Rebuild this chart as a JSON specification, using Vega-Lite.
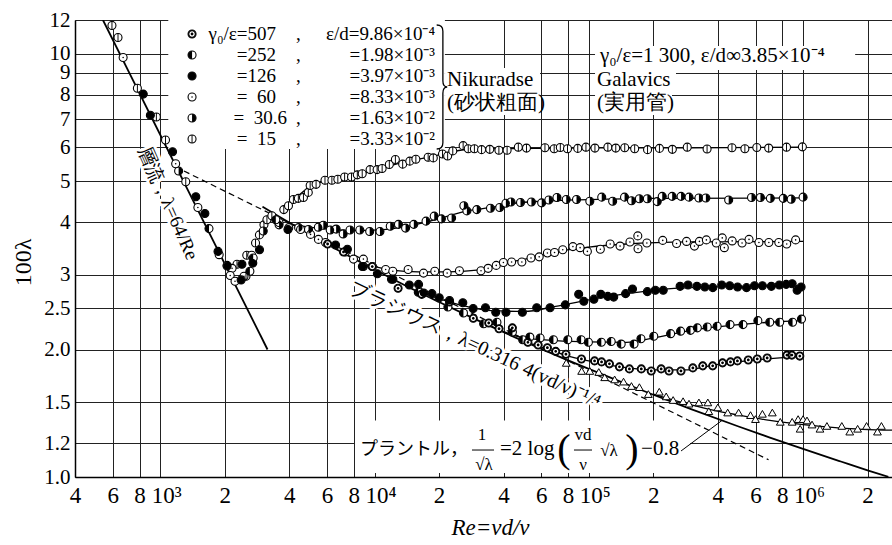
{
  "$schema": "https://vega.github.io/schema/vega-lite/v6.json",
  "width": 817,
  "height": 457,
  "autosize": {"type": "none"},
  "padding": {"left": 75, "top": 20, "right": 0, "bottom": 68},
  "background": "white",
  "config": {"view": {"stroke": null}, "font": "Liberation Serif"},
  "datasets": {
    "boxes": [
      {"re": 1090, "re2": 21300, "lam": 5.95, "lam2": 12},
      {"re": 8107, "re2": 296800, "lam": 1.022, "lam2": 1.36},
      {"re": 106900, "re2": 1750000, "lam": 9.142, "lam2": 10.42},
      {"re": 21330, "re2": 59190, "lam": 8.111, "lam2": 9.242},
      {"re": 21330, "re2": 59190, "lam": 7.157, "lam2": 8.155},
      {"re": 106900, "re2": 255200, "lam": 8.111, "lam2": 9.242},
      {"re": 106900, "re2": 244500, "lam": 7.157, "lam2": 8.155}
    ],
    "curves": [
      {"c": "lam", "re": 540, "lam": 12}, {"c": "lam", "re": 3166, "lam": 2.0},
      {"c": "bla", "re": 1290, "lam": 5.28}, {"c": "bla", "re": 690000, "lam": 1.098},
      {"c": "pra", "re": 3000, "lam": 4.35}, {"c": "pra", "re": 4000, "lam": 3.99}, {"c": "pra", "re": 5000, "lam": 3.74}, {"c": "pra", "re": 7000, "lam": 3.40}, {"c": "pra", "re": 10000, "lam": 3.09}, {"c": "pra", "re": 15000, "lam": 2.78}, {"c": "pra", "re": 20000, "lam": 2.59}, {"c": "pra", "re": 30000, "lam": 2.35}, {"c": "pra", "re": 50000, "lam": 2.09}, {"c": "pra", "re": 70000, "lam": 1.94}, {"c": "pra", "re": 100000, "lam": 1.80}, {"c": "pra", "re": 150000, "lam": 1.657}, {"c": "pra", "re": 200000, "lam": 1.564}, {"c": "pra", "re": 300000, "lam": 1.446}, {"c": "pra", "re": 500000, "lam": 1.316}, {"c": "pra", "re": 700000, "lam": 1.239}, {"c": "pra", "re": 1000000, "lam": 1.165}, {"c": "pra", "re": 1500000, "lam": 1.088}, {"c": "pra", "re": 2000000, "lam": 1.037}, {"c": "pra", "re": 2500000, "lam": 1.001},
      {"c": "c15", "re": 4000, "lam": 4.40}, {"c": "c15", "re": 5000, "lam": 4.85}, {"c": "c15", "re": 6000, "lam": 5.02}, {"c": "c15", "re": 8000, "lam": 5.14}, {"c": "c15", "re": 10000, "lam": 5.30}, {"c": "c15", "re": 13000, "lam": 5.50}, {"c": "c15", "re": 17000, "lam": 5.66}, {"c": "c15", "re": 22000, "lam": 5.83}, {"c": "c15", "re": 28000, "lam": 5.95}, {"c": "c15", "re": 40000, "lam": 5.96}, {"c": "c15", "re": 100000, "lam": 5.99}, {"c": "c15", "re": 300000, "lam": 5.99}, {"c": "c15", "re": 1000000, "lam": 6.01},
      {"c": "c30", "re": 4000, "lam": 3.95}, {"c": "c30", "re": 5500, "lam": 3.87}, {"c": "c30", "re": 8000, "lam": 3.82}, {"c": "c30", "re": 11000, "lam": 3.84}, {"c": "c30", "re": 15000, "lam": 3.93}, {"c": "c30", "re": 20000, "lam": 4.07}, {"c": "c30", "re": 27000, "lam": 4.25}, {"c": "c30", "re": 35000, "lam": 4.33}, {"c": "c30", "re": 45000, "lam": 4.43}, {"c": "c30", "re": 60000, "lam": 4.48}, {"c": "c30", "re": 100000, "lam": 4.52}, {"c": "c30", "re": 200000, "lam": 4.55}, {"c": "c30", "re": 1000000, "lam": 4.56},
      {"c": "c60", "re": 9000, "lam": 3.18}, {"c": "c60", "re": 12000, "lam": 3.08}, {"c": "c60", "re": 16000, "lam": 3.05}, {"c": "c60", "re": 22000, "lam": 3.05}, {"c": "c60", "re": 30000, "lam": 3.08}, {"c": "c60", "re": 40000, "lam": 3.19}, {"c": "c60", "re": 55000, "lam": 3.30}, {"c": "c60", "re": 75000, "lam": 3.42}, {"c": "c60", "re": 100000, "lam": 3.49}, {"c": "c60", "re": 150000, "lam": 3.55}, {"c": "c60", "re": 300000, "lam": 3.59}, {"c": "c60", "re": 1000000, "lam": 3.60},
      {"c": "c126", "re": 17000, "lam": 2.71}, {"c": "c126", "re": 25000, "lam": 2.55}, {"c": "c126", "re": 35000, "lam": 2.47}, {"c": "c126", "re": 50000, "lam": 2.46}, {"c": "c126", "re": 70000, "lam": 2.53}, {"c": "c126", "re": 100000, "lam": 2.62}, {"c": "c126", "re": 150000, "lam": 2.71}, {"c": "c126", "re": 250000, "lam": 2.79}, {"c": "c126", "re": 500000, "lam": 2.82}, {"c": "c126", "re": 1000000, "lam": 2.83},
      {"c": "c252", "re": 35000, "lam": 2.27}, {"c": "c252", "re": 50000, "lam": 2.13}, {"c": "c252", "re": 70000, "lam": 2.10}, {"c": "c252", "re": 100000, "lam": 2.085}, {"c": "c252", "re": 150000, "lam": 2.08}, {"c": "c252", "re": 200000, "lam": 2.13}, {"c": "c252", "re": 300000, "lam": 2.22}, {"c": "c252", "re": 500000, "lam": 2.29}, {"c": "c252", "re": 700000, "lam": 2.32}, {"c": "c252", "re": 1000000, "lam": 2.34},
      {"c": "c507", "re": 50000, "lam": 2.09}, {"c": "c507", "re": 65000, "lam": 2.00}, {"c": "c507", "re": 80000, "lam": 1.93}, {"c": "c507", "re": 100000, "lam": 1.88}, {"c": "c507", "re": 140000, "lam": 1.82}, {"c": "c507", "re": 200000, "lam": 1.79}, {"c": "c507", "re": 280000, "lam": 1.79}, {"c": "c507", "re": 400000, "lam": 1.845}, {"c": "c507", "re": 600000, "lam": 1.89}, {"c": "c507", "re": 1000000, "lam": 1.93},
      {"c": "gal", "re": 200000, "lam": 1.57}, {"c": "gal", "re": 300000, "lam": 1.48}, {"c": "gal", "re": 400000, "lam": 1.43}, {"c": "gal", "re": 500000, "lam": 1.40}, {"c": "gal", "re": 700000, "lam": 1.36}, {"c": "gal", "re": 1000000, "lam": 1.33}, {"c": "gal", "re": 1500000, "lam": 1.305}, {"c": "gal", "re": 2600000, "lam": 1.29}
    ],
    "leaders": [
      {"re": 269400, "lam": 1.152, "re2": 418400, "lam2": 1.36},
      {"re": 28500, "lam": 1.158, "re2": 36110, "lam2": 1.158},
      {"re": 85270, "lam": 1.158, "re2": 103500, "lam2": 1.158}
    ],
    "pts": [
      {"s":"15","re":595,"lam":11.65},{"s":"15","re":635,"lam":10.91},{"s":"15","re":782,"lam":8.28},{"s":"15","re":959,"lam":7.08},{"s":"15","re":1058,"lam":6.25},{"s":"15","re":1315,"lam":4.98},{"s":"15","re":2281,"lam":3.18},{"s":"15","re":2512,"lam":2.98},{"s":"15","re":2533,"lam":3.34},{"s":"15","re":2784,"lam":3.57},{"s":"15","re":2902,"lam":3.73},{"s":"15","re":3047,"lam":3.94},{"s":"15","re":3146,"lam":4.05},{"s":"15","re":3317,"lam":4.14},{"s":"15","re":3771,"lam":4.28},{"s":"15","re":3966,"lam":4.37},{"s":"15","re":4181,"lam":4.52},{"s":"15","re":4409,"lam":4.55},{"s":"15","re":4658,"lam":4.57},{"s":"15","re":4907,"lam":4.70},{"s":"15","re":5006,"lam":4.88},{"s":"15","re":5336,"lam":4.91},{"s":"15","re":5871,"lam":5.02},{"s":"15","re":6323,"lam":5.02},{"s":"15","re":6741,"lam":5.05},{"s":"15","re":7251,"lam":5.11},{"s":"15","re":7808,"lam":5.11},{"s":"15","re":8309,"lam":5.17},{"s":"15","re":8759,"lam":5.20},{"s":"15","re":9535,"lam":5.32},{"s":"15","re":10280,"lam":5.32},{"s":"15","re":10850,"lam":5.35},{"s":"15","re":11720,"lam":5.47},{"s":"15","re":12510,"lam":5.62},{"s":"15","re":13530,"lam":5.48},{"s":"15","re":14610,"lam":5.57},{"s":"15","re":15590,"lam":5.63},{"s":"15","re":17790,"lam":5.69},{"s":"15","re":18800,"lam":5.67},{"s":"15","re":20760,"lam":5.79},{"s":"15","re":21940,"lam":5.73},{"s":"15","re":23180,"lam":5.89},{"s":"15","re":25910,"lam":6.06},{"s":"15","re":27370,"lam":5.96},{"s":"15","re":29240,"lam":5.96},{"s":"15","re":31590,"lam":5.93},{"s":"15","re":34500,"lam":5.94},{"s":"15","re":38050,"lam":5.91},{"s":"15","re":41560,"lam":5.91},{"s":"15","re":46880,"lam":6.01},{"s":"15","re":51180,"lam":5.98},{"s":"15","re":62410,"lam":5.99},{"s":"15","re":68920,"lam":5.96},{"s":"15","re":73620,"lam":6.00},{"s":"15","re":79540,"lam":5.96},{"s":"15","re":88790,"lam":5.97},{"s":"15","re":96970,"lam":6.01},{"s":"15","re":106800,"lam":5.98},{"s":"15","re":122700,"lam":6.01},{"s":"15","re":133600,"lam":5.98},{"s":"15","re":147100,"lam":5.99},{"s":"15","re":163700,"lam":5.96},{"s":"15","re":188000,"lam":5.93},{"s":"15","re":213600,"lam":5.97},{"s":"15","re":245400,"lam":5.94},{"s":"15","re":288000,"lam":6.01},{"s":"15","re":356400,"lam":5.95},{"s":"15","re":465700,"lam":5.99},{"s":"15","re":535000,"lam":5.96},{"s":"15","re":608000,"lam":6.00},{"s":"15","re":691000,"lam":5.98},{"s":"15","re":837000,"lam":6.01},{"s":"15","re":992700,"lam":6.02},
      {"s":"30.6","re":1218,"lam":5.28},{"s":"30.6","re":2051,"lam":3.16},{"s":"30.6","re":3024,"lam":3.81},{"s":"30.6","re":3584,"lam":3.94},{"s":"30.6","re":4422,"lam":3.88},{"s":"30.6","re":4917,"lam":3.84},{"s":"30.6","re":5467,"lam":3.89},{"s":"30.6","re":5766,"lam":3.93},{"s":"30.6","re":6211,"lam":3.83},{"s":"30.6","re":6618,"lam":3.85},{"s":"30.6","re":7137,"lam":3.75},{"s":"30.6","re":7683,"lam":3.83},{"s":"30.6","re":8536,"lam":3.83},{"s":"30.6","re":9493,"lam":3.80},{"s":"30.6","re":10600,"lam":3.80},{"s":"30.6","re":11840,"lam":3.91},{"s":"30.6","re":12930,"lam":3.95},{"s":"30.6","re":13960,"lam":3.87},{"s":"30.6","re":15250,"lam":3.95},{"s":"30.6","re":17390,"lam":4.02},{"s":"30.6","re":18990,"lam":4.13},{"s":"30.6","re":20510,"lam":4.07},{"s":"30.6","re":22890,"lam":4.09},{"s":"30.6","re":26110,"lam":4.37},{"s":"30.6","re":26980,"lam":4.25},{"s":"30.6","re":30000,"lam":4.28},{"s":"30.6","re":34760,"lam":4.31},{"s":"30.6","re":38390,"lam":4.33},{"s":"30.6","re":41020,"lam":4.43},{"s":"30.6","re":43340,"lam":4.46},{"s":"30.6","re":48000,"lam":4.45},{"s":"30.6","re":53970,"lam":4.46},{"s":"30.6","re":60250,"lam":4.44},{"s":"30.6","re":65100,"lam":4.51},{"s":"30.6","re":71020,"lam":4.57},{"s":"30.6","re":78470,"lam":4.52},{"s":"30.6","re":87610,"lam":4.52},{"s":"30.6","re":101100,"lam":4.48},{"s":"30.6","re":114900,"lam":4.58},{"s":"30.6","re":129200,"lam":4.48},{"s":"30.6","re":146800,"lam":4.58},{"s":"30.6","re":158200,"lam":4.49},{"s":"30.6","re":172200,"lam":4.54},{"s":"30.6","re":187600,"lam":4.54},{"s":"30.6","re":208600,"lam":4.47},{"s":"30.6","re":220100,"lam":4.60},{"s":"30.6","re":244900,"lam":4.60},{"s":"30.6","re":269500,"lam":4.60},{"s":"30.6","re":293500,"lam":4.58},{"s":"30.6","re":326500,"lam":4.56},{"s":"30.6","re":351800,"lam":4.56},{"s":"30.6","re":449500,"lam":4.51},{"s":"30.6","re":574500,"lam":4.57},{"s":"30.6","re":632200,"lam":4.57},{"s":"30.6","re":703500,"lam":4.55},{"s":"30.6","re":808000,"lam":4.55},{"s":"30.6","re":880000,"lam":4.53},{"s":"30.6","re":1000000,"lam":4.58},
      {"s":"60","re":671,"lam":9.79},{"s":"60","re":1180,"lam":5.49},{"s":"60","re":1498,"lam":4.33},{"s":"60","re":1883,"lam":3.35},{"s":"60","re":2163,"lam":3.11},{"s":"60","re":2120,"lam":2.99},{"s":"60","re":2233,"lam":2.90},{"s":"60","re":2459,"lam":2.98},{"s":"60","re":2671,"lam":3.34},{"s":"60","re":3580,"lam":3.99},{"s":"60","re":3978,"lam":3.88},{"s":"60","re":4516,"lam":3.84},{"s":"60","re":5028,"lam":3.74},{"s":"60","re":5472,"lam":3.64},{"s":"60","re":5907,"lam":3.58},{"s":"60","re":7320,"lam":3.40},{"s":"60","re":7976,"lam":3.27},{"s":"60","re":8870,"lam":3.27},{"s":"60","re":9770,"lam":3.14},{"s":"60","re":11270,"lam":3.09},{"s":"60","re":12170,"lam":3.06},{"s":"60","re":14350,"lam":3.09},{"s":"60","re":16930,"lam":3.03},{"s":"60","re":19110,"lam":3.06},{"s":"60","re":21820,"lam":3.03},{"s":"60","re":24900,"lam":3.07},{"s":"60","re":31390,"lam":3.07},{"s":"60","re":33900,"lam":3.11},{"s":"60","re":36980,"lam":3.16},{"s":"60","re":39940,"lam":3.21},{"s":"60","re":43620,"lam":3.22},{"s":"60","re":48700,"lam":3.22},{"s":"60","re":53730,"lam":3.29},{"s":"60","re":58680,"lam":3.31},{"s":"60","re":64080,"lam":3.38},{"s":"60","re":69220,"lam":3.39},{"s":"60","re":75580,"lam":3.44},{"s":"60","re":84300,"lam":3.50},{"s":"60","re":91070,"lam":3.48},{"s":"60","re":98460,"lam":3.41},{"s":"60","re":113200,"lam":3.45},{"s":"60","re":125800,"lam":3.55},{"s":"60","re":139900,"lam":3.51},{"s":"60","re":155600,"lam":3.59},{"s":"60","re":169300,"lam":3.71},{"s":"60","re":169700,"lam":3.46},{"s":"60","re":186600,"lam":3.57},{"s":"60","re":221300,"lam":3.62},{"s":"60","re":256800,"lam":3.56},{"s":"60","re":285800,"lam":3.60},{"s":"60","re":311200,"lam":3.51},{"s":"60","re":328300,"lam":3.60},{"s":"60","re":353700,"lam":3.63},{"s":"60","re":393500,"lam":3.57},{"s":"60","re":419500,"lam":3.67},{"s":"60","re":429000,"lam":3.48},{"s":"60","re":466700,"lam":3.61},{"s":"60","re":519200,"lam":3.57},{"s":"60","re":559400,"lam":3.64},{"s":"60","re":622300,"lam":3.58},{"s":"60","re":692200,"lam":3.58},{"s":"60","re":770300,"lam":3.58},{"s":"60","re":838800,"lam":3.55},{"s":"60","re":923200,"lam":3.63},
      {"s":"126","re":833,"lam":8.02},{"s":"126","re":899,"lam":7.15},{"s":"126","re":1141,"lam":5.86},{"s":"126","re":1465,"lam":4.59},{"s":"126","re":1615,"lam":4.19},{"s":"126","re":1860,"lam":3.41},{"s":"126","re":2051,"lam":3.15},{"s":"126","re":2384,"lam":2.92},{"s":"126","re":2405,"lam":3.18},{"s":"126","re":2703,"lam":3.20},{"s":"126","re":2905,"lam":3.44},{"s":"126","re":3944,"lam":3.84},{"s":"126","re":6577,"lam":3.53},{"s":"126","re":7470,"lam":3.45},{"s":"126","re":8776,"lam":3.14},{"s":"126","re":10310,"lam":3.02},{"s":"126","re":12180,"lam":2.93},{"s":"126","re":14530,"lam":2.84},{"s":"126","re":16050,"lam":2.85},{"s":"126","re":16970,"lam":2.72},{"s":"126","re":18530,"lam":2.71},{"s":"126","re":20040,"lam":2.65},{"s":"126","re":22380,"lam":2.61},{"s":"126","re":25820,"lam":2.58},{"s":"126","re":28860,"lam":2.50},{"s":"126","re":32940,"lam":2.51},{"s":"126","re":36790,"lam":2.45},{"s":"126","re":41060,"lam":2.45},{"s":"126","re":48980,"lam":2.45},{"s":"126","re":57130,"lam":2.51},{"s":"126","re":65940,"lam":2.51},{"s":"126","re":77700,"lam":2.55},{"s":"126","re":89690,"lam":2.70},{"s":"126","re":94760,"lam":2.60},{"s":"126","re":105600,"lam":2.63},{"s":"126","re":113800,"lam":2.70},{"s":"126","re":122600,"lam":2.67},{"s":"126","re":130700,"lam":2.66},{"s":"126","re":148500,"lam":2.71},{"s":"126","re":159900,"lam":2.78},{"s":"126","re":187600,"lam":2.74},{"s":"126","re":204300,"lam":2.76},{"s":"126","re":222500,"lam":2.76},{"s":"126","re":266700,"lam":2.82},{"s":"126","re":290400,"lam":2.84},{"s":"126","re":319600,"lam":2.82},{"s":"126","re":348000,"lam":2.81},{"s":"126","re":379000,"lam":2.80},{"s":"126","re":417300,"lam":2.84},{"s":"126","re":454500,"lam":2.83},{"s":"126","re":494800,"lam":2.81},{"s":"126","re":544600,"lam":2.80},{"s":"126","re":593200,"lam":2.83},{"s":"126","re":646000,"lam":2.83},{"s":"126","re":711000,"lam":2.82},{"s":"126","re":774300,"lam":2.84},{"s":"126","re":834000,"lam":2.85},{"s":"126","re":889300,"lam":2.86},{"s":"126","re":938100,"lam":2.76},{"s":"126","re":978900,"lam":2.81},
      {"s":"252","re":1688,"lam":3.86},{"s":"252","re":2620,"lam":3.06},{"s":"252","re":2714,"lam":3.29},{"s":"252","re":3461,"lam":4.05},{"s":"252","re":12000,"lam":2.93},{"s":"252","re":16000,"lam":2.73},{"s":"252","re":22000,"lam":2.52},{"s":"252","re":26000,"lam":2.44},{"s":"252","re":32300,"lam":2.30},{"s":"252","re":37260,"lam":2.32},{"s":"252","re":44000,"lam":2.20},{"s":"252","re":49130,"lam":2.11},{"s":"252","re":53070,"lam":2.14},{"s":"252","re":59260,"lam":2.13},{"s":"252","re":68380,"lam":2.11},{"s":"252","re":79790,"lam":2.11},{"s":"252","re":92070,"lam":2.11},{"s":"252","re":99560,"lam":2.08},{"s":"252","re":114400,"lam":2.08},{"s":"252","re":127200,"lam":2.09},{"s":"252","re":141600,"lam":2.06},{"s":"252","re":162600,"lam":2.06},{"s":"252","re":175100,"lam":2.12},{"s":"252","re":201000,"lam":2.15},{"s":"252","re":240900,"lam":2.18},{"s":"252","re":268100,"lam":2.21},{"s":"252","re":298200,"lam":2.22},{"s":"252","re":321000,"lam":2.25},{"s":"252","re":357100,"lam":2.26},{"s":"252","re":397200,"lam":2.27},{"s":"252","re":456200,"lam":2.29},{"s":"252","re":524200,"lam":2.29},{"s":"252","re":615200,"lam":2.34},{"s":"252","re":698900,"lam":2.32},{"s":"252","re":777700,"lam":2.32},{"s":"252","re":893100,"lam":2.32},{"s":"252","re":983100,"lam":2.36},
      {"s":"507","re":6040,"lam":3.55},{"s":"507","re":7166,"lam":3.40},{"s":"507","re":8870,"lam":3.14},{"s":"507","re":9758,"lam":3.14},{"s":"507","re":12880,"lam":2.79},{"s":"507","re":16600,"lam":2.70},{"s":"507","re":22400,"lam":2.59},{"s":"507","re":28900,"lam":2.37},{"s":"507","re":34120,"lam":2.31},{"s":"507","re":38100,"lam":2.24},{"s":"507","re":43980,"lam":2.25},{"s":"507","re":51970,"lam":2.08},{"s":"507","re":58010,"lam":2.05},{"s":"507","re":64080,"lam":2.02},{"s":"507","re":70070,"lam":1.98},{"s":"507","re":78220,"lam":1.95},{"s":"507","re":92380,"lam":1.90},{"s":"507","re":106400,"lam":1.88},{"s":"507","re":114700,"lam":1.87},{"s":"507","re":124800,"lam":1.85},{"s":"507","re":139000,"lam":1.82},{"s":"507","re":154700,"lam":1.80},{"s":"507","re":175800,"lam":1.80},{"s":"507","re":195600,"lam":1.78},{"s":"507","re":217600,"lam":1.80},{"s":"507","re":236800,"lam":1.78},{"s":"507","re":269200,"lam":1.78},{"s":"507","re":305900,"lam":1.81},{"s":"507","re":340300,"lam":1.83},{"s":"507","re":378600,"lam":1.83},{"s":"507","re":420900,"lam":1.86},{"s":"507","re":458300,"lam":1.87},{"s":"507","re":493800,"lam":1.88},{"s":"507","re":555000,"lam":1.89},{"s":"507","re":611100,"lam":1.90},{"s":"507","re":679800,"lam":1.91},{"s":"507","re":840500,"lam":1.94},{"s":"507","re":886500,"lam":1.94},{"s":"507","re":965400,"lam":1.93}
    ],
    "tri": [
      {"re":78470,"lam":1.86},{"re":92570,"lam":1.78},{"re":101100,"lam":1.78},{"re":111300,"lam":1.77},{"re":118600,"lam":1.72},{"re":131950,"lam":1.70},{"re":145200,"lam":1.68},{"re":158100,"lam":1.64},{"re":172200,"lam":1.63},{"re":189600,"lam":1.57},{"re":213200,"lam":1.59},{"re":229700,"lam":1.55},{"re":247500,"lam":1.52},{"re":275400,"lam":1.51},{"re":293500,"lam":1.49},{"re":326500,"lam":1.50},{"re":359400,"lam":1.50},{"re":363200,"lam":1.43},{"re":399900,"lam":1.46},{"re":444700,"lam":1.42},{"re":500100,"lam":1.42},{"re":568400,"lam":1.40},{"re":599500,"lam":1.37},{"re":646000,"lam":1.41},{"re":718600,"lam":1.42},{"re":782600,"lam":1.35},{"re":889300,"lam":1.35},{"re":948100,"lam":1.37},{"re":968600,"lam":1.30},{"re":1000000,"lam":1.37},{"re":1043000,"lam":1.36},{"re":1101000,"lam":1.33},{"re":1199000,"lam":1.30},{"re":1292000,"lam":1.32},{"re":1516000,"lam":1.32},{"re":1651000,"lam":1.28},{"re":1797000,"lam":1.30},{"re":1978000,"lam":1.32},{"re":2224000,"lam":1.28},{"re":2321000,"lam":1.32}
    ],
    "legsym": [
      {"s":"507","re":1407,"lam":11.12},{"s":"252","re":1407,"lam":9.919},{"s":"126","re":1407,"lam":8.85},{"s":"60","re":1407,"lam":7.894},{"s":"30.6","re":1407,"lam":7.042},{"s":"15","re":1407,"lam":6.283}
    ],
    "brace": [{"re": 20430, "lam": 8.336}],
    "tL": [
      {"t":"Nikuradse","re":21790,"lam":8.66},
      {"t":"(砂状粗面)","re":21790,"lam":7.64},
      {"t":"Galavics","re":109200,"lam":8.66},
      {"t":"(実用管)","re":109200,"lam":7.64},
      {"t":"=2 log","re":38510,"lam":1.164},
      {"t":"−0.8","re":175300,"lam":1.164}
    ],
    "tG": [
      {"t":"γ₀/ε=1 300, ε/d∞3.85×10⁻⁴","re":112800,"lam":9.86}
    ],
    "tK": [
      {"t":"プラントル，","re":8554,"lam":1.158}
    ],
    "tCm": [
      {"t":",","re":4300,"lam":11.12},{"t":",","re":4300,"lam":9.919},{"t":",","re":4300,"lam":8.85},{"t":",","re":4300,"lam":7.894},{"t":",","re":4300,"lam":7.042},{"t":",","re":4300,"lam":6.283}
    ],
    "tR": [
      {"t":"γ₀/ε=507","re":3469,"lam":11.12},
      {"t":"=252","re":3469,"lam":9.919},
      {"t":"=126","re":3469,"lam":8.85},
      {"t":"=\u00a0\u00a060","re":3469,"lam":7.894},
      {"t":"=\u00a0\u00a030.6","re":3904,"lam":7.042},
      {"t":"=\u00a0\u00a015","re":3469,"lam":6.283},
      {"t":"ε/d=9.86×10⁻⁴","re":19150,"lam":11.12},
      {"t":"=1.98×10⁻³","re":19150,"lam":9.919},
      {"t":"=3.97×10⁻³","re":19150,"lam":8.85},
      {"t":"=8.33×10⁻³","re":19150,"lam":7.894},
      {"t":"=1.63×10⁻²","re":19150,"lam":7.042},
      {"t":"=3.33×10⁻²","re":19150,"lam":6.283}
    ],
    "tC": [
      {"t":"1","re":31730,"lam":1.256},
      {"t":"√λ","re":32420,"lam":1.067},
      {"t":"vd","re":93970,"lam":1.256},
      {"t":"ν","re":93970,"lam":1.067},
      {"t":"√λ","re":124300,"lam":1.152}
    ],
    "tP": [
      {"t":"(","re":76610,"lam":1.158},
      {"t":")","re":159100,"lam":1.158}
    ],
    "tLam": [{"t":"層流，λ=64/Re","re":1087,"lam":4.437}],
    "tBla": [{"t":"ブラジウス，λ=0.316 4(vd/ν)⁻¹/⁴","re":29440,"lam":2.05}]
  },
  "encoding": {
    "x": {
      "field": "re", "type": "quantitative",
      "scale": {"type": "log", "domain": [400, 2600000], "nice": false},
      "axis": {
        "values": [400,600,800,1000,2000,4000,6000,8000,10000,20000,40000,60000,80000,100000,200000,400000,600000,800000,1000000,2000000],
        "labelExpr": "datum.value == 1000 ? '10³' : datum.value == 10000 ? '10⁴' : datum.value == 100000 ? '10⁵' : datum.value == 1000000 ? '10⁶' : substring(toString(datum.value), 0, 1)",
        "labelOffset": {"condition": {"test": "datum.value == 1000 || datum.value == 10000 || datum.value == 100000 || datum.value == 1000000", "value": 6}, "value": 0},
        "title": "Re=vd/ν",
        "grid": true, "gridColor": "#222", "gridWidth": 1,
        "ticks": false, "domainColor": "black", "domainWidth": 1.5,
        "labelFont": "Liberation Serif", "labelFontSize": 23, "labelColor": "black", "labelPadding": 7,
        "labelOverlap": false, "labelFlush": false,
        "titleFont": "Liberation Serif", "titleFontSize": 23, "titleFontStyle": "italic", "titleFontWeight": "normal", "titleColor": "black",
        "titleX": 415, "titleY": 50, "titleAlign": "center", "titleBaseline": "middle"
      }
    },
    "y": {
      "field": "lam", "type": "quantitative",
      "scale": {"type": "log", "domain": [1, 12], "nice": false},
      "axis": {
        "values": [1,1.2,1.5,2,2.5,3,4,5,6,7,8,9,10,12],
        "labelExpr": "datum.value < 2.9 ? format(datum.value, '.1f') : format(datum.value, 'd')",
        "title": "100λ",
        "grid": true, "gridColor": "#222", "gridWidth": 1,
        "ticks": false, "domainColor": "black", "domainWidth": 1.5,
        "labelFont": "Liberation Serif", "labelFontSize": 21, "labelColor": "black", "labelPadding": 5,
        "labelOverlap": false, "labelFlush": false,
        "titleFont": "Liberation Serif", "titleFontSize": 24, "titleFontWeight": "normal", "titleColor": "black",
        "titleX": -52, "titleY": 242, "titleAlign": "center", "titleBaseline": "middle"
      }
    }
  },
  "layer": [
    {"data": {"name": "boxes"}, "mark": {"type": "rect", "fill": "white", "strokeWidth": 0}, "encoding": {"x2": {"field": "re2"}, "y2": {"field": "lam2"}}},
    {"data": {"name": "curves"}, "transform": [{"filter": "datum.c == 'lam' || datum.c == 'pra'"}], "mark": {"type": "line", "color": "black", "strokeWidth": 1.8, "clip": true, "interpolate": "monotone"}, "encoding": {"detail": {"field": "c"}}},
    {"data": {"name": "curves"}, "transform": [{"filter": "datum.c == 'bla'"}], "mark": {"type": "line", "color": "black", "strokeWidth": 1.2, "strokeDash": [6, 4], "clip": true}, "encoding": {"detail": {"field": "c"}}},
    {"data": {"name": "curves"}, "transform": [{"filter": "datum.c != 'lam' && datum.c != 'pra' && datum.c != 'bla'"}], "mark": {"type": "line", "color": "black", "strokeWidth": 1.3, "clip": true, "interpolate": "monotone"}, "encoding": {"detail": {"field": "c"}}},
    {"data": {"name": "leaders"}, "mark": {"type": "rule", "color": "black", "strokeWidth": 1}, "encoding": {"x2": {"field": "re2"}, "y2": {"field": "lam2"}}},
    {"data": {"name": "pts"}, "mark": {"type": "point", "shape": "circle", "filled": true, "fill": "white", "stroke": "black", "strokeWidth": 1.1, "size": 64, "opacity": 1, "clip": true}, "encoding": {}},
    {"data": {"name": "pts"}, "mark": {"type": "point", "filled": true, "fill": "black", "strokeWidth": 0, "size": 64, "opacity": 1, "clip": true},
      "encoding": {"shape": {"field": "s", "type": "nominal", "legend": null, "scale": {"domain": ["507","252","126","60","30.6","15"], "range": [
        "M-1,0A1,1,0,1,0,1,0A1,1,0,1,0,-1,0ZM-0.68,0A0.68,0.68,0,1,1,0.68,0A0.68,0.68,0,1,1,-0.68,0ZM-0.35,0A0.35,0.35,0,1,0,0.35,0A0.35,0.35,0,1,0,-0.35,0Z",
        "M0,-1A1,1,0,0,0,0,1Z",
        "M-1,0A1,1,0,1,0,1,0A1,1,0,1,0,-1,0Z",
        "M-0.2,0A0.2,0.2,0,1,0,0.2,0A0.2,0.2,0,1,0,-0.2,0Z",
        "M0,-1A1,1,0,0,1,0,1Z",
        "M-0.12,-1L0.12,-1L0.12,1L-0.12,1Z"]}}}},
    {"data": {"name": "tri"}, "mark": {"type": "point", "shape": "triangle-up", "filled": true, "fill": "white", "stroke": "black", "strokeWidth": 1, "size": 60, "opacity": 1, "clip": true}, "encoding": {}},
    {"data": {"name": "legsym"}, "mark": {"type": "point", "shape": "circle", "filled": true, "fill": "white", "stroke": "black", "strokeWidth": 1.1, "size": 64, "opacity": 1}, "encoding": {}},
    {"data": {"name": "legsym"}, "mark": {"type": "point", "filled": true, "fill": "black", "strokeWidth": 0, "size": 64, "opacity": 1},
      "encoding": {"shape": {"field": "s", "type": "nominal", "legend": null}}},
    {"data": {"name": "brace"}, "mark": {"type": "point", "shape": "M-0.07,-1Q0.03,-1,0.03,-0.9L0.03,-0.1Q0.03,0,0.1,0Q0.03,0,0.03,0.1L0.03,0.9Q0.03,1,-0.07,1", "size": 15376, "filled": false, "stroke": "black", "strokeWidth": 1.3, "opacity": 1}, "encoding": {}},
    {"data": {"name": "tL"}, "mark": {"type": "text", "align": "left", "baseline": "middle", "font": "Liberation Serif", "fontSize": 21, "fill": "black"}, "encoding": {"text": {"field": "t"}}},
    {"data": {"name": "tG"}, "mark": {"type": "text", "align": "left", "baseline": "middle", "font": "Liberation Serif", "fontSize": 21, "fill": "black"}, "encoding": {"text": {"field": "t"}}},
    {"data": {"name": "tK"}, "mark": {"type": "text", "align": "left", "baseline": "middle", "font": "Noto Sans CJK JP", "fontSize": 18, "fill": "black"}, "encoding": {"text": {"field": "t"}}},
    {"data": {"name": "tCm"}, "mark": {"type": "text", "align": "left", "baseline": "middle", "font": "Liberation Serif", "fontSize": 19, "fill": "black"}, "encoding": {"text": {"field": "t"}}},
    {"data": {"name": "tR"}, "mark": {"type": "text", "align": "right", "baseline": "middle", "font": "Liberation Serif", "fontSize": 19, "fill": "black"}, "encoding": {"text": {"field": "t"}}},
    {"data": {"name": "tC"}, "mark": {"type": "text", "align": "center", "baseline": "middle", "font": "Liberation Serif", "fontSize": 17, "fill": "black"}, "encoding": {"text": {"field": "t"}}},
    {"data": {"name": "tP"}, "mark": {"type": "text", "align": "center", "baseline": "middle", "font": "Liberation Serif", "fontSize": 40, "fill": "black"}, "encoding": {"text": {"field": "t"}}},
    {"data": {"name": "tLam"}, "mark": {"type": "text", "align": "center", "baseline": "middle", "angle": 66, "font": "Liberation Serif", "fontSize": 19, "fill": "white", "stroke": "white", "strokeWidth": 6, "strokeJoin": "round"}, "encoding": {"text": {"field": "t"}}},
    {"data": {"name": "tLam"}, "mark": {"type": "text", "align": "center", "baseline": "middle", "angle": 66, "font": "Liberation Serif", "fontSize": 19, "fill": "black"}, "encoding": {"text": {"field": "t"}}},
    {"data": {"name": "tBla"}, "mark": {"type": "text", "align": "center", "baseline": "middle", "angle": 25, "font": "Liberation Serif", "fontSize": 20, "fill": "white", "stroke": "white", "strokeWidth": 6, "strokeJoin": "round"}, "encoding": {"text": {"field": "t"}}},
    {"data": {"name": "tBla"}, "mark": {"type": "text", "align": "center", "baseline": "middle", "angle": 25, "font": "Liberation Serif", "fontSize": 20, "fill": "black"}, "encoding": {"text": {"field": "t"}}}
  ]
}
